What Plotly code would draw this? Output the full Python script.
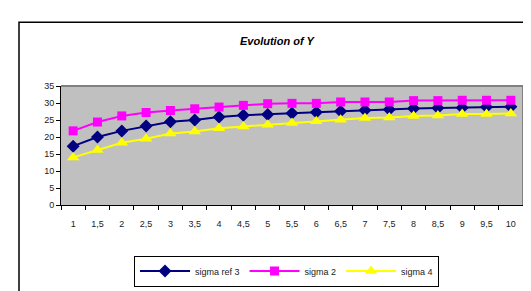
import plotly.graph_objects as go

categories = ["1", "1,5", "2", "2,5", "3", "3,5", "4", "4,5", "5", "5,5",
              "6", "6,5", "7", "7,5", "8", "8,5", "9", "9,5", "10"]
sigma_ref3 = [17.3, 20.0, 21.8, 23.2, 24.5, 25.0, 25.9, 26.4, 26.6, 27.0,
              27.3, 27.6, 27.9, 28.1, 28.4, 28.5, 28.6, 28.8, 28.9]
sigma2 = [21.8, 24.4, 26.2, 27.2, 27.8, 28.3, 28.8, 29.3, 29.8, 29.9,
          29.9, 30.3, 30.3, 30.3, 30.7, 30.7, 30.8, 30.8, 30.8]
sigma4 = [14.0, 16.2, 18.3, 19.5, 21.0, 21.6, 22.6, 23.1, 23.6, 24.1,
          24.6, 25.1, 25.6, 25.7, 26.2, 26.3, 26.8, 26.8, 26.9]
title_text = "Evolution of Y"

W, H = 531, 291
L, R, T, B = 53, 515, 78, 205
pw, ph = R - L, B - T

def px(x):
    return (x - L) / pw

def py(y):
    return (B - y) / ph

font = "Liberation Sans, Arial, sans-serif"

fig = go.Figure()
fig.add_trace(go.Scatter(x=categories, y=sigma_ref3, name="sigma ref 3", mode="lines+markers",
                         line=dict(color="#000080", width=2),
                         marker=dict(symbol="diamond", size=10, color="#000080")))
fig.add_trace(go.Scatter(x=categories, y=sigma2, name="sigma 2", mode="lines+markers",
                         line=dict(color="#FF00FF", width=2),
                         marker=dict(symbol="square", size=9, color="#FF00FF")))
fig.add_trace(go.Scatter(x=categories, y=sigma4, name="sigma 4", mode="lines+markers",
                         line=dict(color="#FFFF00", width=2),
                         marker=dict(symbol="triangle-up", size=11, color="#FFFF00")))

fig.update_layout(
    width=W, height=H,
    margin=dict(l=L, r=W - R, t=T, b=H - B, pad=0),
    paper_bgcolor="white",
    plot_bgcolor="#C0C0C0",
    font=dict(family=font, size=9, color="#222222"),
    showlegend=True,
    legend=dict(orientation="h", x=px(126), y=py(259), xanchor="left", yanchor="top",
                bgcolor="white", bordercolor="black", borderwidth=1,
                font=dict(size=9, color="#222222"), itemwidth=50,
                traceorder="normal", entrywidth=0),
    xaxis=dict(type="category", range=[-0.5, 18.5], showgrid=False,
               ticks="outside", ticklen=4, tickcolor="black", tickson="boundaries",
               showline=True, linecolor="black", linewidth=1, ticklabelstandoff=10,
               tickfont=dict(size=9, color="#222222"), zeroline=False, fixedrange=True),
    yaxis=dict(range=[0, 35], dtick=5, showgrid=False, ticks="outside", ticklen=4,
               tickcolor="black", showline=True, linecolor="black", linewidth=1,
               tickfont=dict(size=9, color="#222222"), zeroline=False, fixedrange=True),
    annotations=[dict(text="<b><i>" + title_text + "</i></b>", x=px(269), y=py(30),
                      xref="paper", yref="paper", showarrow=False,
                      font=dict(size=11, color="black", family=font),
                      xanchor="center", yanchor="middle")],
    shapes=[
        dict(type="rect", xref="paper", yref="paper", x0=px(11), x1=px(540),
             y0=py(300), y1=py(10), line=dict(color="black", width=1.5), layer="below"),
        dict(type="line", xref="paper", yref="paper", x0=0, x1=1, y0=1, y1=1,
             line=dict(color="#808080", width=2)),
        dict(type="line", xref="paper", yref="paper", x0=1, x1=1, y0=0, y1=1,
             line=dict(color="#808080", width=2)),
    ],
)

fig.write_html("out.html")
